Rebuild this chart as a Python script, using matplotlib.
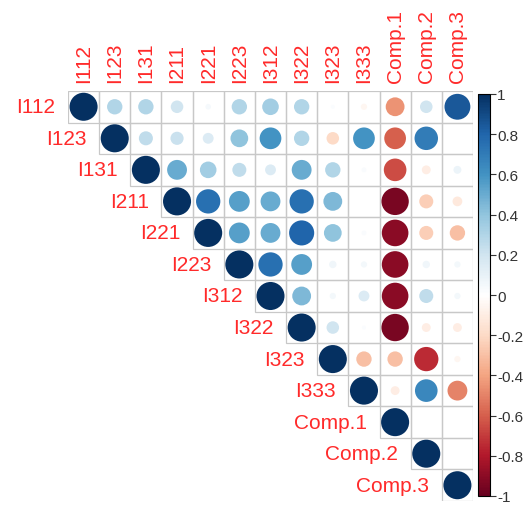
import numpy as np
import matplotlib
matplotlib.use("Agg")
import matplotlib.pyplot as plt
from matplotlib.colors import LinearSegmentedColormap, Normalize
from matplotlib.patches import Ellipse, Rectangle
from matplotlib.colorbar import ColorbarBase

plt.rcParams['font.family'] = ['Liberation Sans', 'DejaVu Sans']

# variable names
names = ["I112", "I123", "I131", "I211", "I221", "I223", "I312", "I322",
         "I323", "I333", "Comp.1", "Comp.2", "Comp.3"]

# upper triangle of the correlation matrix, row by row (diagonal first)
upper = [
    [1, 0.30, 0.30, 0.20, 0.04, 0.30, 0.35, 0.30, 0.02, -0.05, -0.45, 0.20, 0.85],
    [1, 0.25, 0.22, 0.15, 0.40, 0.60, 0.30, -0.20, 0.60, -0.60, 0.70, 0.0],
    [1, 0.50, 0.35, 0.25, 0.15, 0.50, 0.30, 0.03, -0.65, -0.10, 0.08],
    [1, 0.75, 0.55, 0.50, 0.75, 0.45, 0.0, -0.95, -0.25, -0.12],
    [1, 0.55, 0.50, 0.80, 0.40, 0.03, -0.90, -0.25, -0.30],
    [1, 0.75, 0.55, 0.07, 0.05, -0.90, 0.07, 0.05],
    [1, 0.45, 0.05, 0.15, -0.90, 0.25, 0.05],
    [1, 0.20, 0.02, -0.95, -0.10, -0.10],
    [1, -0.30, -0.30, -0.75, -0.05],
    [1, -0.10, 0.65, -0.50],
    [1, 0.0, 0.0],
    [1, 0.0],
    [1],
]

cmap = LinearSegmentedColormap.from_list("rdbu", [
    "#67001F", "#B2182B", "#D6604D", "#F4A582", "#FDDBC7", "#FFFFFF",
    "#D1E5F0", "#92C5DE", "#4393C3", "#2166AC", "#053061"])
norm = Normalize(-1, 1)

W, H = 526, 510
fig = plt.figure(figsize=(W / 100, H / 100), dpi=100)

n = len(names)
gl, gt, gw, gh = 68, 92, 405, 410
ax = fig.add_axes([gl / W, 1 - (gt + gh) / H, gw / W, gh / H])
ax.set_xlim(0, n)
ax.set_ylim(n, 0)
ax.axis("off")

cw, ch = gw / n, gh / n
lab_color = "#FF2A2A"

for i in range(n):
    for k, r in enumerate(upper[i]):
        j = i + k
        ax.add_patch(Rectangle((j, i), 1, 1, facecolor="none",
                               edgecolor="#C8C8C8", lw=0.9))
        rad = 0.9 * np.sqrt(abs(r)) / 2
        if rad > 0:
            ax.add_patch(Ellipse((j + 0.5, i + 0.5), 2 * rad, 2 * rad * cw / ch,
                                 facecolor=cmap(norm(r)), edgecolor="none"))
    # row label left of the diagonal cell
    ax.text(i - 0.4, i + 0.5, names[i], ha="right", va="center",
            fontsize=15, color=lab_color)
    # column label above the grid
    ax.text(i + 0.5, -0.3, names[i], ha="center", va="bottom", rotation=90,
            fontsize=15, color=lab_color)

# colour legend
cax = fig.add_axes([478 / W, 1 - 497 / H, 12 / W, 402 / H])
cb = ColorbarBase(cax, cmap=cmap, norm=norm)
ticks = np.round(np.arange(-1, 1.01, 0.2), 1)
cb.set_ticks(ticks)
cb.set_ticklabels(["%g" % (0 if abs(t) < 1e-9 else t) for t in ticks])
cax.tick_params(labelsize=11, length=4, width=0.8, pad=1, colors="#333333")
cb.outline.set_linewidth(0.8)

fig.savefig("out.png", dpi=100)
